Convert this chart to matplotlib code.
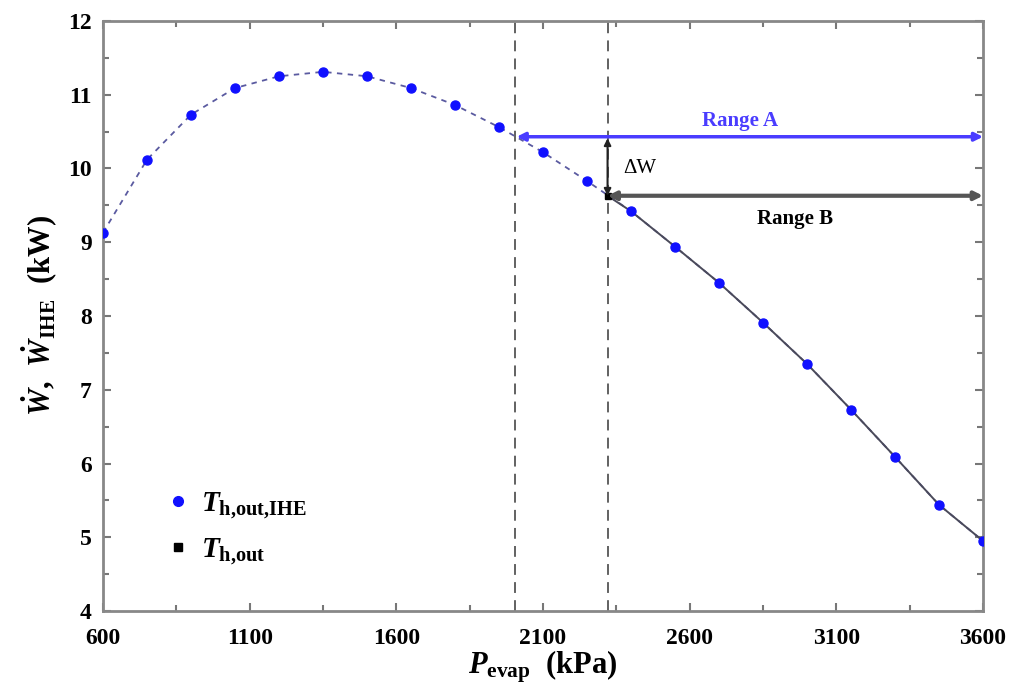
import matplotlib
matplotlib.use("Agg")
import matplotlib.pyplot as plt
from matplotlib.ticker import MultipleLocator

plt.rcParams['font.family'] = ['Liberation Serif', 'DejaVu Serif']
plt.rcParams['mathtext.fontset'] = 'custom'
plt.rcParams['mathtext.it'] = 'Liberation Serif:italic:bold'
plt.rcParams['mathtext.rm'] = 'Liberation Serif:bold'
plt.rcParams['mathtext.bf'] = 'Liberation Serif:bold'

# Data
p_evap = [600, 750, 900, 1050, 1200, 1350, 1500, 1650, 1800, 1950, 2100,
          2250, 2400, 2550, 2700, 2850, 3000, 3150, 3300, 3450, 3600]
w_ihe = [9.13, 10.12, 10.73, 11.09, 11.25, 11.31, 11.25, 11.09, 10.86, 10.56, 10.22,
         9.83, 9.42, 8.94, 8.45, 7.91, 7.35, 6.73, 6.09, 5.44, 4.95]
p_out = [2320, 2400, 2550, 2700, 2850, 3000, 3150, 3300, 3450, 3600]
w_out = [9.63, 9.42, 8.94, 8.45, 7.91, 7.35, 6.73, 6.09, 5.44, 4.95]
x_ticks = [600, 1100, 1600, 2100, 2600, 3100, 3600]

vlines_p = [2005, 2320]
range_a = (2010, 3600, 10.43)
range_b = (2320, 3600, 9.63)
delta_w = (2320, 10.41, 9.63)

fig = plt.figure(figsize=(10.17, 6.98), dpi=100)
ax = fig.add_axes([0.1013, 0.1246, 0.8653, 0.8454])

ax.plot(p_evap, w_ihe, color='#5a5aa0', lw=1.3, ls=(0, (3, 3)), zorder=2)
ax.plot(p_out, w_out, color='#4a4a5a', lw=1.4, ls='-', zorder=2)
ax.plot(p_out, w_out, ls='none', marker='s', ms=5, color='black', zorder=3)
ax.plot(p_evap, w_ihe, ls='none', marker='o', ms=6.5, color='#1010ff',
        markeredgecolor='#1010ff', zorder=4)

for v in vlines_p:
    ax.axvline(v, color='#555555', lw=1.3, ls=(0, (6, 4)), zorder=1)

ax.annotate('', xy=(range_a[1], range_a[2]), xytext=(range_a[0], range_a[2]),
            arrowprops=dict(arrowstyle='<|-|>', color='#4a3cff', lw=2.5,
                            mutation_scale=12, shrinkA=0, shrinkB=0))
ax.text(2770, 10.65, 'Range A', color='#4a3cff', fontsize=15, fontweight='bold',
        ha='center', va='center')
ax.annotate('', xy=(range_b[1], range_b[2]), xytext=(range_b[0], range_b[2]),
            arrowprops=dict(arrowstyle='<|-|>', color='#555555', lw=3,
                            mutation_scale=12, shrinkA=0, shrinkB=0))
ax.text(2960, 9.32, 'Range B', color='black', fontsize=15, fontweight='bold',
        ha='center', va='center')
ax.annotate('', xy=(delta_w[0], delta_w[2]), xytext=(delta_w[0], delta_w[1]),
            arrowprops=dict(arrowstyle='<|-|>', color='#222222', lw=1.5,
                            mutation_scale=10, shrinkA=0, shrinkB=0))
ax.text(2375, 10.0, 'ΔW', color='black', fontsize=15, ha='left', va='center')

ax.set_xlim(600, 3600)
ax.set_ylim(4, 12)
ax.set_xticks(x_ticks)
ax.set_xticklabels([str(t) for t in x_ticks])
ax.xaxis.set_minor_locator(MultipleLocator(250, offset=100))
ax.yaxis.set_major_locator(MultipleLocator(1))
ax.yaxis.set_minor_locator(MultipleLocator(0.5))
ax.tick_params(which='both', direction='in', top=True, right=True, colors='#777777',
               labelcolor='black', labelsize=17, width=1.5)
ax.tick_params(which='major', length=6)
ax.tick_params(which='minor', length=4)
ax.tick_params(axis='x', pad=12)
ax.tick_params(axis='y', pad=8)
for lab in ax.get_xticklabels() + ax.get_yticklabels():
    lab.set_fontweight('bold')
for s in ax.spines.values():
    s.set_color('#888888')
    s.set_linewidth(2)

ax.set_xlabel(r'$P_{\rm evap}$  (kPa)', fontsize=22, fontweight='bold', labelpad=0)
ax.set_ylabel(r'$\dot{W}$,  $\dot{W}_{\rm IHE}$  (kW)', fontsize=22, fontweight='bold',
              labelpad=6)

h1 = ax.plot([], [], ls='none', marker='o', ms=7, color='#1010ff')[0]
h2 = ax.plot([], [], ls='none', marker='s', ms=6, color='black')[0]
ax.legend([h1, h2], [r'$T_{\rm h{,}out{,}IHE}$', r'$T_{\rm h{,}out}$'], loc='lower left',
          bbox_to_anchor=(0.035, 0.03), frameon=False, fontsize=21, handletextpad=0.2,
          handlelength=1.2, labelspacing=0.55)

fig.savefig('out.png', dpi=100)
